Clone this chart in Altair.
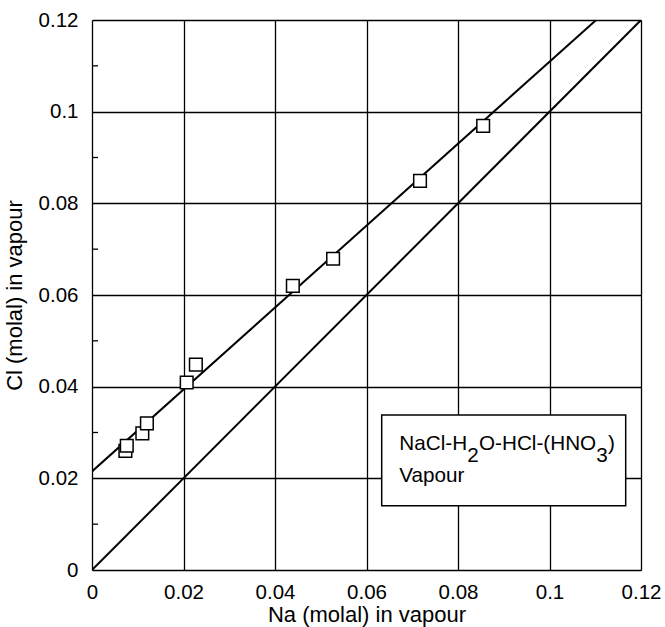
import altair as alt
import pandas as pd

# Measured data (squares)
na_vap = [0.0073, 0.0076, 0.0110, 0.0120, 0.0207, 0.0227, 0.0439, 0.0527, 0.0717, 0.0855]
cl_vap = [0.0260, 0.0271, 0.0298, 0.0320, 0.0409, 0.0448, 0.0620, 0.0679, 0.0849, 0.0969]

# Fitted line end points
fit_x = [0.0, 0.1102]
fit_y = [0.0215, 0.12]

# 1:1 line
one_x = [0.0, 0.12]
one_y = [0.0, 0.12]

major_ticks = [0, 0.02, 0.04, 0.06, 0.08, 0.1, 0.12]
minor_ticks_y = [0.01, 0.03, 0.05, 0.07, 0.09, 0.11]

FONT = "Liberation Sans"

pts = pd.DataFrame({"na": na_vap, "cl": cl_vap})
fit = pd.DataFrame({"na": fit_x, "cl": fit_y})
one = pd.DataFrame({"na": one_x, "cl": one_y})
minor = pd.DataFrame({"cl": minor_ticks_y})

xs = alt.Scale(domain=[0, 0.12], nice=False, zero=False)
ys = alt.Scale(domain=[0, 0.12], nice=False, zero=False)

x_axis = alt.Axis(values=major_ticks, format="~g", title="Na (molal) in vapour",
                  grid=True, gridColor="black", gridWidth=1.3, gridOpacity=1,
                  domain=False, ticks=False, labelPadding=12, labelFlush=False,
                  labelOverlap=False, labelFont=FONT, labelFontSize=20.5, labelColor="black",
                  titleFont=FONT, titleFontSize=22, titleFontWeight="normal", titleColor="black",
                  titleBaseline="alphabetic", titleY=51)
y_axis = alt.Axis(values=major_ticks, format="~g", title="Cl (molal) in vapour",
                  grid=True, gridColor="black", gridWidth=1.3, gridOpacity=1,
                  domain=False, ticks=False, labelPadding=14, labelFlush=False,
                  labelOverlap=False, labelFont=FONT, labelFontSize=20.5, labelColor="black",
                  titleFont=FONT, titleFontSize=22, titleFontWeight="normal", titleColor="black",
                  titleBaseline="alphabetic", titleAngle=-90, titleX=-71)

base_one = alt.Chart(one).mark_line(color="black", strokeWidth=2, clip=True).encode(
    x=alt.X("na:Q", scale=xs, axis=x_axis),
    y=alt.Y("cl:Q", scale=ys, axis=y_axis),
)
fit_line = alt.Chart(fit).mark_line(color="black", strokeWidth=2, clip=True).encode(
    x=alt.X("na:Q", scale=xs), y=alt.Y("cl:Q", scale=ys)
)
minor_rules = alt.Chart(minor).mark_rule(color="black", strokeWidth=1.3).encode(
    y=alt.Y("cl:Q", scale=ys), x=alt.value(0), x2=alt.value(6)
)
points = alt.Chart(pts).mark_point(shape="square", filled=True, fill="white",
                                   stroke="black", strokeWidth=1.5, size=160, opacity=1).encode(
    x=alt.X("na:Q", scale=xs), y=alt.Y("cl:Q", scale=ys)
)

one_row = alt.Data(values=[{"a": 1}])
box = alt.Chart(one_row).mark_rect(fill="white", stroke="black", strokeWidth=1.5).encode(
    x=alt.value(289.7), x2=alt.value(533.7), y=alt.value(395), y2=alt.value(485.7)
)

def txt(s, x, y):
    return alt.Chart(one_row).mark_text(font=FONT, fontSize=20.7, color="black",
                                         align="left", baseline="alphabetic").encode(
        x=alt.value(x), y=alt.value(y), text=alt.value(s)
    )

texts = [
    txt("NaCl-H", 307.3, 430),
    txt("2", 375.3, 441.5),
    txt("O-HCl-(HNO", 387.0, 430),
    txt("3", 504.3, 441.5),
    txt(")", 516.0, 430),
    txt("Vapour", 307.3, 462),
]

chart = alt.layer(base_one, fit_line, minor_rules, box, *texts, points).properties(
    width=549, height=550,
    autosize=alt.AutoSizeParams(type="none"),
    padding={"left": 92, "top": 20, "right": 24, "bottom": 57},
).configure_view(stroke="black", strokeWidth=2.5).configure(background="white")

chart.save("out.html", embed_options={"renderer": "svg", "actions": False})
